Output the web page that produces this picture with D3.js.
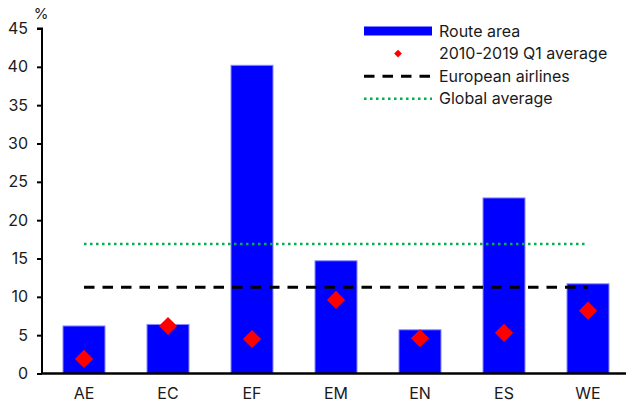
<!DOCTYPE html>
<html>
<head>
<meta charset="utf-8">
<script src="https://cdn.jsdelivr.net/npm/d3@7"></script>
<style>
  html, body { margin: 0; padding: 0; background: #fff; }
  svg { display: block; font-family: Inter, "Liberation Sans", Arial, sans-serif; }
</style>
</head>
<body>
<svg id="chart" width="626" height="408"></svg>
<script>
// Route areas and their shares (%)
const categories = ["AE", "EC", "EF", "EM", "EN", "ES", "WE"];
const routeArea = [6.2, 6.4, 40.2, 14.7, 5.7, 22.9, 11.7];
const q1Average = [1.9, 6.2, 4.5, 9.6, 4.6, 5.3, 8.2];
const europeanAirlines = 11.25;
const globalAverage = 16.9;
const yTicks = [0, 5, 10, 15, 20, 25, 30, 35, 40, 45];
const legendLabels = ["Route area", "2010-2019 Q1 average", "European airlines", "Global average"];

const svg = d3.select("#chart");
const margin = { left: 42, right: -4, top: 28.5, bottom: 34.5 };
const W = 626, H = 408;
const FONT = "Inter, 'Liberation Sans', Arial, sans-serif";
const FS = 16;

const x = d3.scaleBand()
  .domain(categories)
  .range([margin.left, W - margin.right])
  .paddingInner(0.5)
  .paddingOuter(0.25);

const y = d3.scaleLinear()
  .domain([0, 45])
  .range([H - margin.bottom, margin.top]);

// Bars
svg.append("g").selectAll("rect")
  .data(categories)
  .join("rect")
  .attr("x", (d) => x(d))
  .attr("width", x.bandwidth())
  .attr("y", (d, i) => y(routeArea[i]))
  .attr("height", (d, i) => y(0) - y(routeArea[i]))
  .attr("fill", "#0000ff")
  .attr("stroke", "#8a8aff")
  .attr("stroke-width", 1);

// Reference lines across the categories
const xFirst = x(categories[0]) + x.bandwidth() / 2;
const xLast = x(categories[categories.length - 1]) + x.bandwidth() / 2;

svg.append("line")
  .attr("x1", xFirst).attr("x2", xLast)
  .attr("y1", y(globalAverage)).attr("y2", y(globalAverage))
  .attr("stroke", "#00b050")
  .attr("stroke-width", 2.5)
  .attr("stroke-dasharray", "2.5 3.5");

svg.append("line")
  .attr("x1", xFirst).attr("x2", xLast)
  .attr("y1", y(europeanAirlines)).attr("y2", y(europeanAirlines))
  .attr("stroke", "#000")
  .attr("stroke-width", 3)
  .attr("stroke-dasharray", "10.5 8");

// Q1 average diamonds
const diamond = d3.symbol().type(d3.symbolSquare).size(165);
svg.append("g").selectAll("path")
  .data(categories)
  .join("path")
  .attr("d", diamond)
  .attr("transform", (d, i) => `translate(${x(d) + x.bandwidth() / 2},${y(q1Average[i])}) rotate(45)`)
  .attr("fill", "#ff0000");

// Axes
const yAxis = d3.axisLeft(y).tickValues(yTicks).tickSize(5).tickPadding(9);
const gy = svg.append("g")
  .attr("transform", `translate(${margin.left},0)`)
  .call(yAxis);
gy.select(".domain").attr("stroke", "#000").attr("stroke-width", 2)
  .attr("d", `M-5,${y(45)}H0V${y(0)}`);
gy.selectAll(".tick line").attr("stroke", "#000").attr("stroke-width", 2);
gy.selectAll(".tick text")
  .attr("font-size", FS).attr("fill", "#1a1a1a")
  .attr("font-family", FONT);

const xAxis = d3.axisBottom(x).tickSize(0).tickPadding(14);
const gx = svg.append("g")
  .attr("transform", `translate(0,${y(0)})`)
  .call(xAxis);
gx.select(".domain").attr("stroke", "#000").attr("stroke-width", 2.5)
  .attr("d", `M${margin.left},0H${W}`);
gx.selectAll(".tick text")
  .attr("font-size", FS).attr("fill", "#1a1a1a")
  .attr("font-family", FONT);

// Unit label
svg.append("text")
  .attr("x", 41).attr("y", 19)
  .attr("text-anchor", "middle")
  .attr("font-size", 15).attr("fill", "#1a1a1a")
  .text("%");

// Legend
const lg = svg.append("g");
const lx0 = 364, lx1 = 432, ltx = 439, ly0 = 31, lstep = 22.6;

lg.append("rect")
  .attr("x", lx0).attr("y", ly0 - 4.5).attr("width", lx1 - lx0).attr("height", 9)
  .attr("fill", "#0000ff");

lg.append("path")
  .attr("d", d3.symbol().type(d3.symbolSquare).size(30))
  .attr("transform", `translate(${(lx0 + lx1) / 2},${ly0 + lstep}) rotate(45)`)
  .attr("fill", "#ff0000");

lg.append("line")
  .attr("x1", lx0).attr("x2", lx1)
  .attr("y1", ly0 + 2 * lstep).attr("y2", ly0 + 2 * lstep)
  .attr("stroke", "#000").attr("stroke-width", 3)
  .attr("stroke-dasharray", "10.5 8");

lg.append("line")
  .attr("x1", lx0).attr("x2", lx1)
  .attr("y1", ly0 + 3 * lstep).attr("y2", ly0 + 3 * lstep)
  .attr("stroke", "#00b050").attr("stroke-width", 2.5)
  .attr("stroke-dasharray", "2.5 3.5");

lg.selectAll("text")
  .data(legendLabels)
  .join("text")
  .attr("x", ltx)
  .attr("y", (d, i) => ly0 + i * lstep)
  .attr("dy", "0.35em")
  .attr("font-size", FS)
  .attr("fill", "#1a1a1a")
  .text((d) => d);
</script>
</body>
</html>
